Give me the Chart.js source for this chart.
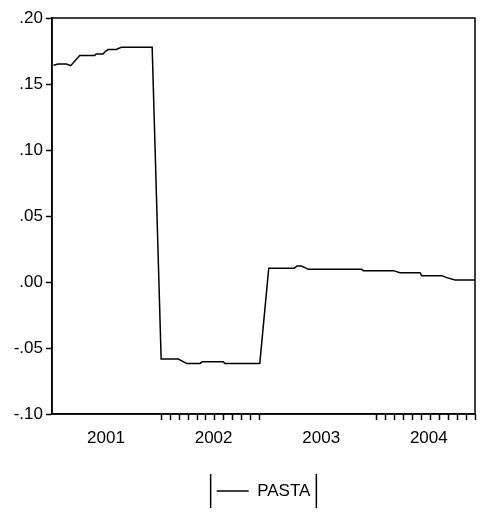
<!DOCTYPE html>
<html>
<head>
<meta charset="utf-8">
<script src="https://cdn.jsdelivr.net/npm/chart.js@4"></script>
<style>
html,body{margin:0;padding:0;background:#fff;}
#wrap{width:500px;height:517px;position:relative;}
</style>
</head>
<body>
<div id="wrap"><canvas id="c" width="500" height="517"></canvas></div>
<script>
// Data: position in months since Jan 2001 (0 = Jan 2001, 47 = Dec 2004) and PASTA value
const seriesName = 'PASTA';
const monthPos = [0, 0.5, 1.43, 1.92, 2.92, 4.6, 4.74, 5.52, 5.8, 6.08, 7.0, 7.56, 11,
  12, 13.92, 14.3, 14.85, 16.34, 16.56, 18.93, 19.12, 23,
  24, 26.85, 27.15, 27.6, 28.04, 28.4, 34.37, 34.55, 37.89, 38.64, 40.87, 41.06, 43.29, 43.85, 44.77, 47];
const pastaValues = [0.1642, 0.1652, 0.1652, 0.1639, 0.1715, 0.1715, 0.1728, 0.1728, 0.1748, 0.1761, 0.1761, 0.1778, 0.1778,
  -0.0584, -0.0584, -0.0597, -0.0617, -0.0617, -0.0605, -0.0605, -0.0617, -0.0617,
  0.0104, 0.0104, 0.0121, 0.0121, 0.0109, 0.0096, 0.0096, 0.0086, 0.0086, 0.0071, 0.0071, 0.0048, 0.0048, 0.0033, 0.0015, 0.0015];
const yearLabels = ['2001', '2002', '2003', '2004'];
const yTickValues = [-0.10, -0.05, 0.00, 0.05, 0.10, 0.15, 0.20];

const FONT = "'Liberation Sans', Arial, sans-serif";
const points = monthPos.map((m, i) => ({x: m, y: pastaValues[i]}));
const yearCenters = yearLabels.map((_, i) => i * 12 + 5.85);
const minorTicks = [];
yearLabels.forEach((_, i) => { if (i % 2 === 1) { for (let k = 0; k < 12; k++) minorTicks.push(i * 12 + k); } });
const isCenter = v => yearCenters.some(c => Math.abs(c - v) < 1e-6);

const framePlugin = {
  id: 'frame',
  afterDatasetsDraw(chart) {
    const a = chart.chartArea, ctx = chart.ctx;
    ctx.save();
    ctx.strokeStyle = '#000';
    ctx.lineWidth = 1.5;
    ctx.strokeRect(a.left, a.top, a.right - a.left, a.bottom - a.top);
    ctx.restore();
  }
};
const bracketPlugin = {
  id: 'bracket',
  afterDraw(chart) {
    const lg = chart.legend;
    if (!lg || !lg.legendHitBoxes || !lg.legendHitBoxes.length) return;
    const hb = lg.legendHitBoxes[0];
    const cy = hb.top + hb.height / 2;
    const ctx = chart.ctx;
    ctx.save();
    ctx.strokeStyle = '#000';
    ctx.lineWidth = 1.5;
    ctx.beginPath();
    ctx.moveTo(hb.left - 6, cy - 17); ctx.lineTo(hb.left - 6, cy + 17);
    ctx.moveTo(hb.left + hb.width + 6, cy - 17); ctx.lineTo(hb.left + hb.width + 6, cy + 17);
    ctx.stroke();
    ctx.restore();
  }
};

new Chart(document.getElementById('c'), {
  type: 'line',
  data: {
    datasets: [{
      label: seriesName,
      data: points,
      borderColor: '#000',
      backgroundColor: '#000',
      borderWidth: 1.5,
      pointRadius: 0,
      tension: 0,
      fill: false
    }]
  },
  options: {
    responsive: false,
    animation: false,
    devicePixelRatio: 1,
    layout: {padding: {top: 18, right: 25, left: 0, bottom: 7.5}},
    scales: {
      x: {
        type: 'linear',
        min: -0.17,
        max: 47,
        afterBuildTicks(scale) {
          const vals = minorTicks.concat(yearCenters).sort((a, b) => a - b);
          scale.ticks = vals.map(v => ({value: v}));
        },
        afterFit(scale) { scale.height = 58.5; },
        ticks: {
          autoSkip: false,
          maxRotation: 0,
          padding: 8,
          color: '#000',
          font: {family: FONT, size: 17},
          callback(v) {
            const idx = yearCenters.findIndex(c => Math.abs(c - v) < 1e-6);
            return idx >= 0 ? yearLabels[idx] : '';
          }
        },
        grid: {
          drawOnChartArea: false,
          tickLength: 6,
          tickWidth: 1.5,
          tickColor: ctx => (ctx.tick && isCenter(ctx.tick.value)) ? 'rgba(0,0,0,0)' : '#000'
        },
        border: {color: '#000', width: 1.5}
      },
      y: {
        type: 'linear',
        min: -0.10,
        max: 0.20,
        afterBuildTicks(scale) { scale.ticks = yTickValues.map(v => ({value: v})); },
        afterFit(scale) { scale.width = 52; },
        ticks: {
          padding: 3,
          color: '#000',
          font: {family: FONT, size: 17},
          callback(v) { return Number(v).toFixed(2).replace('0.', '.'); }
        },
        grid: {drawOnChartArea: false, tickLength: 6, tickWidth: 1.5, tickColor: '#000'},
        border: {color: '#000', width: 1.5}
      }
    },
    plugins: {
      legend: {
        display: true,
        position: 'bottom',
        fullSize: false,
        labels: {
          usePointStyle: true,
          pointStyle: 'line',
          pointStyleWidth: 32,
          padding: 10,
          color: '#000',
          font: {family: FONT, size: 17}
        }
      },
      tooltip: {enabled: false}
    }
  },
  plugins: [framePlugin, bracketPlugin]
});
</script>
</body>
</html>
